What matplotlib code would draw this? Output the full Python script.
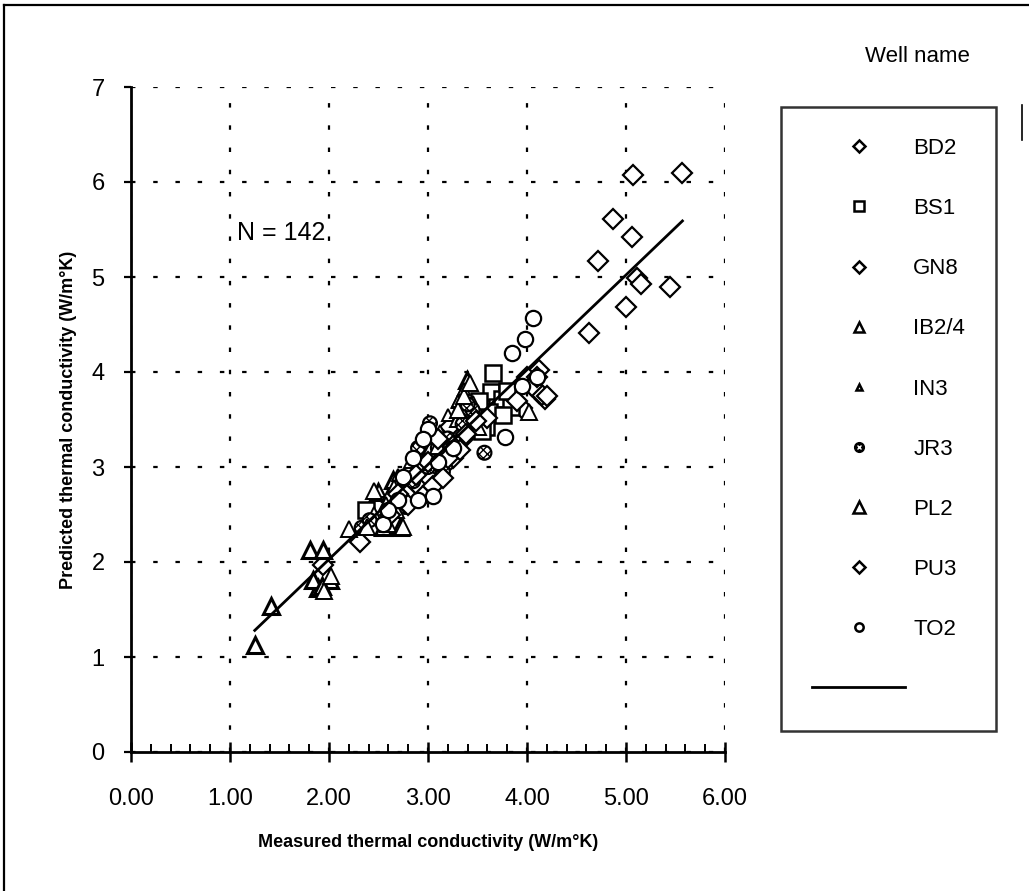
import numpy as np
import matplotlib
matplotlib.use("Agg")
import matplotlib.pyplot as plt
from matplotlib.lines import Line2D

plt.rcParams['font.family'] = ['Liberation Sans', 'DejaVu Sans']

# measured (x) vs predicted (y) thermal conductivity, W/m K, per well
wells = ['BD2', 'BS1', 'GN8', 'IB2/4', 'IN3', 'JR3', 'PL2', 'PU3', 'TO2']

bd2_x = [5.07, 5.57, 4.87, 5.06, 4.72, 5.11, 5.15, 5.44, 5.00, 4.63, 4.12, 4.18, 3.95, 4.05]
bd2_y = [6.07, 6.09, 5.61, 5.42, 5.17, 4.99, 4.93, 4.89, 4.68, 4.41, 3.78, 3.72, 3.62, 3.88]

bs1_x = [3.66, 3.64, 3.70, 3.59, 3.75, 3.84, 3.55, 3.48, 3.80, 2.37, 3.40, 3.30, 3.62, 3.52, 3.76]
bs1_y = [3.99, 3.79, 3.63, 3.42, 3.72, 3.63, 3.38, 3.55, 3.80, 2.55, 3.48, 3.36, 3.58, 3.70, 3.55]

gn8_x = [2.31, 1.94, 3.25, 3.35, 2.90, 3.15, 3.45, 4.12, 4.15, 4.00, 3.05, 2.78, 3.40, 3.22, 2.98, 3.60]
gn8_y = [2.21, 1.97, 3.10, 3.30, 2.80, 3.00, 3.50, 4.02, 3.76, 3.95, 3.15, 2.72, 3.62, 3.42, 2.92, 3.52]

ib24_x = [1.25, 1.41, 1.81, 1.94, 1.89, 2.01, 1.84, 1.93, 2.55, 2.72, 2.65, 3.39, 2.49, 3.32]
ib24_y = [1.13, 1.54, 2.13, 2.13, 1.73, 1.81, 1.81, 1.75, 2.37, 2.37, 2.86, 3.92, 2.74, 3.72]

in3_x = [2.50, 2.60, 2.70, 2.82, 3.30, 3.36, 2.45, 2.92, 3.02, 3.20, 2.66, 3.12, 3.45, 2.58, 3.28, 2.88]
in3_y = [2.75, 2.70, 2.92, 3.05, 3.70, 3.82, 2.52, 3.12, 3.20, 3.55, 2.80, 3.38, 3.68, 2.62, 3.48, 2.98]

jr3_x = [3.57, 2.33, 2.41, 2.77, 3.02, 3.02, 3.10, 3.35, 3.45, 3.40, 2.90, 3.00, 2.85, 3.20, 3.30, 2.72, 3.15]
jr3_y = [3.15, 2.36, 2.44, 2.58, 3.37, 3.46, 3.20, 3.45, 3.60, 3.66, 3.20, 3.00, 2.85, 3.30, 3.25, 2.68, 2.95]

pl2_x = [4.02, 2.45, 2.38, 2.60, 2.75, 3.30, 3.36, 3.42, 1.95, 2.02, 2.20, 2.95, 3.10, 2.68, 3.50]
pl2_y = [3.58, 2.75, 2.37, 2.40, 2.37, 3.60, 3.75, 3.88, 1.70, 1.85, 2.35, 3.05, 3.22, 2.55, 3.42]

pu3_x = [2.95, 3.05, 3.20, 2.80, 3.10, 4.20, 3.90, 4.05, 2.88, 3.00, 3.25, 3.38, 2.70, 3.15, 3.48, 4.10, 2.62, 3.32]
pu3_y = [2.70, 2.80, 3.10, 2.60, 3.30, 3.75, 3.70, 3.85, 2.92, 3.05, 3.22, 3.35, 2.72, 2.88, 3.48, 3.95, 2.50, 3.18]

to2_x = [4.06, 3.98, 3.85, 3.78, 3.00, 2.95, 2.85, 2.70, 2.55, 3.10, 3.25, 2.60, 4.10, 3.95, 2.75, 3.05, 2.90]
to2_y = [4.57, 4.35, 4.20, 3.32, 3.40, 3.30, 3.10, 2.65, 2.40, 3.05, 3.20, 2.55, 3.95, 3.85, 2.90, 2.70, 2.65]

# regression line end points
fit_x = [1.25, 5.57]
fit_y = [1.28, 5.59]

n_samples = 142

xs = [bd2_x, bs1_x, gn8_x, ib24_x, in3_x, jr3_x, pl2_x, pu3_x, to2_x]
ys = [bd2_y, bs1_y, gn8_y, ib24_y, in3_y, jr3_y, pl2_y, pu3_y, to2_y]

# marker, size in plot, edge width, size in legend
styles = [
    ('D', 10, 1.6, 6),
    ('s', 11, 1.8, 7),
    ('D', 10, 1.6, 6),
    ('^', 12, 2.2, 7),
    ('^', 8, 1.4, 5),
    ('o', 10, 1.6, 7),
    ('^', 12, 1.4, 8),
    ('D', 10, 1.6, 6),
    ('o', 11, 1.6, 6),
]

fig = plt.figure(figsize=(10.29, 8.91), dpi=100)
ax = fig.add_axes([131 / 1029, 1 - 752 / 891, 594 / 1029, 665 / 891])

for w, wx, wy, (m, ms, mew, lms) in zip(wells, xs, ys, styles):
    if w == 'JR3':
        # hatched circle
        ax.scatter(wx, wy, s=ms ** 2, marker='o', facecolor='white',
                   edgecolor='black', linewidth=mew, hatch='xxxx', zorder=3)
    else:
        ax.plot(wx, wy, linestyle='none', marker=m, ms=ms, mfc='white',
                mec='black', mew=mew, zorder=3)

ax.plot(fit_x, fit_y, color='black', lw=2.0, zorder=4)

ax.text(1.07, 5.46, f'N = {n_samples}', fontsize=18, va='center', ha='left')

ax.set_xlim(0, 6)
ax.set_ylim(0, 7)
ax.set_xticks(np.arange(0, 7, 1))
ax.set_xticklabels([f'{v:.2f}' for v in range(7)])
ax.set_yticks(np.arange(0, 8, 1))
ax.set_xticks(np.arange(0, 6.01, 0.2), minor=True)
ax.grid(True, which='major', color='black', linestyle=(0, (2, 8)), lw=1.6)
for side in ['top', 'right']:
    ax.spines[side].set_visible(False)
ax.spines['left'].set_linewidth(2)
ax.spines['bottom'].set_linewidth(2)
ax.tick_params(axis='x', which='major', direction='inout', length=14, width=1.8,
               labelsize=17, pad=19)
ax.tick_params(axis='x', which='minor', direction='in', length=6, width=1.4)
ax.tick_params(axis='y', which='major', direction='out', length=5, width=1.6,
               labelsize=17, pad=14)
ax.set_xlabel('Measured thermal conductivity (W/m°K)', fontsize=13,
              fontweight='bold', labelpad=17)
ax.set_ylabel('Predicted thermal conductivity (W/m°K)', fontsize=13,
              fontweight='bold', labelpad=10)

# legend with small markers and the regression line at the end
handles = []
for (m, ms, mew, lms), w in zip(styles, wells):
    if w == 'JR3':
        dot = Line2D([], [], linestyle='none', marker='o', ms=lms,
                     mfc='black', mec='black')
        cross = Line2D([], [], linestyle='none', marker='x', ms=lms * 0.45,
                       mec='white', mew=1.0)
        handles.append((dot, cross))
    else:
        handles.append(Line2D([], [], linestyle='none', marker=m, ms=lms,
                              mfc='white', mec='black', mew=1.8))
handles.append(Line2D([], [], color='black', lw=2))
labels = wells + ['']

leg = fig.legend(handles, labels, loc='upper left',
                 bbox_to_anchor=(781 / 1029, 1 - 107 / 891), fontsize=16,
                 frameon=True, fancybox=False, edgecolor='black',
                 handlelength=4.2, handletextpad=0.35, labelspacing=1.76,
                 borderpad=1.4, borderaxespad=0)
leg.get_frame().set_linewidth(1.8)

fig.text(917 / 1029, 1 - 57 / 891, 'Well name', fontsize=16, ha='center',
         va='center')

# page frame
fig.add_artist(Line2D([0.004, 0.004], [0, 0.994], color='black', lw=1.6))
fig.add_artist(Line2D([0.004, 1.0], [0.994, 0.994], color='black', lw=1.6))
fig.add_artist(Line2D([0.993, 0.993], [1 - 140 / 891, 1 - 105 / 891],
                      color='black', lw=1.2))

fig.savefig('out.png', dpi=100)
